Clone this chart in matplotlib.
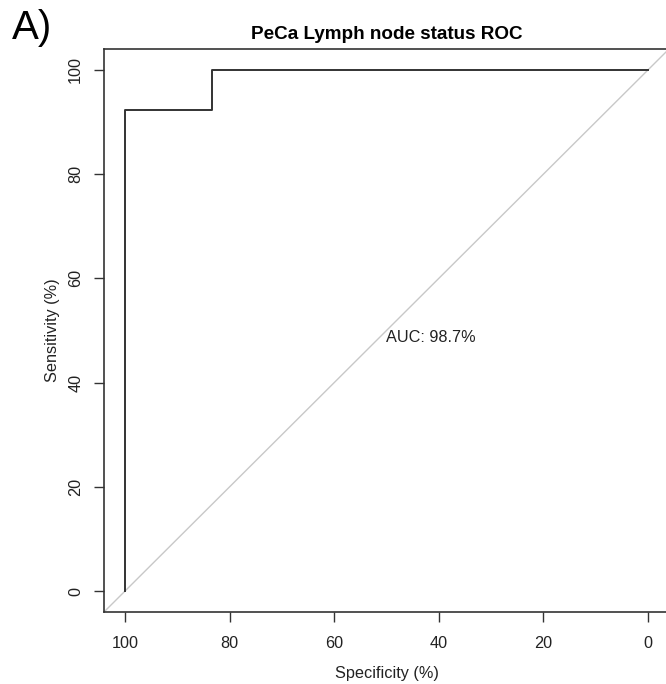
import matplotlib
matplotlib.use("Agg")
import matplotlib.pyplot as plt

plt.rcParams['font.family'] = ['Liberation Sans', 'DejaVu Sans']

# ROC steps (percent)
specificity = [100, 100, 83.33, 83.33, 0]
sensitivity = [0, 92.31, 92.31, 100, 100]
auc = 98.7
xticks = [100, 80, 60, 40, 20, 0]
yticks = [0, 20, 40, 60, 80, 100]

W, H = 666, 684
fig = plt.figure(figsize=(W / 100, H / 100), dpi=100)
# axes box in pixels: left 104, right 669, top 49, bottom 612
ax = fig.add_axes([104 / W, 1 - 612 / H, (669 - 104) / W, (612 - 49) / H])

ax.plot([104, -4], [-4, 104], color='#c8c8c8', lw=1.0, zorder=1)
ax.plot(specificity, sensitivity, color='#333333', lw=1.4, zorder=2)

ax.set_xlim(104, -4)
ax.set_ylim(-4, 104)
ax.set_xticks(xticks)
ax.set_yticks(yticks)
ax.tick_params(length=7, width=1, color='#333333', labelsize=11.7, labelcolor='#222222')
ax.tick_params(axis='x', pad=10)
ax.tick_params(axis='y', pad=8)
for lab in ax.get_yticklabels():
    lab.set_rotation(90)
    lab.set_va('center')
for s in ax.spines.values():
    s.set_color('#333333')
    s.set_linewidth(1.2)

ax.text(50, 50, "AUC: %.1f%%" % auc, ha='left', va='top', fontsize=11.7, color='#222222')

ax.set_xlabel("Specificity (%)", fontsize=11.7, labelpad=11, color='#222222')
ax.set_ylabel("Sensitivity (%)", fontsize=11.7, labelpad=6, color='#222222')
ax.set_title("PeCa Lymph node status ROC", fontsize=13.6, fontweight='bold', pad=7)

fig.text(12 / W, 1 - 28 / H, "A)", fontsize=29, ha='left', va='center')

fig.savefig("out.png", dpi=100)
